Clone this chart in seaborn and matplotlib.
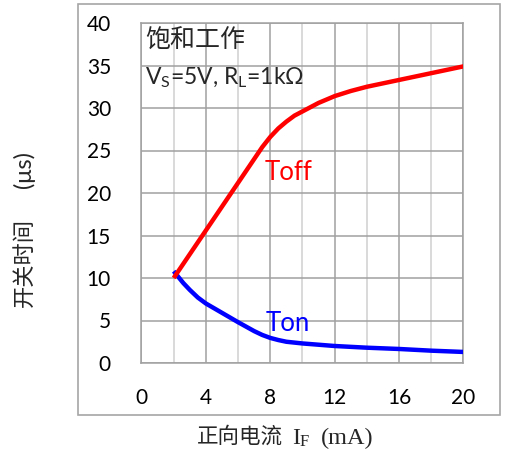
import matplotlib
matplotlib.use("Agg")
import matplotlib.pyplot as plt
import seaborn as sns
import pandas as pd
from matplotlib.patches import Rectangle

# ---- data ----
toff_x = [2, 3, 4, 5, 6, 7, 7.5, 8, 8.5, 9, 9.5, 10, 11, 12, 13, 14, 15, 16, 17, 18, 19, 20]
toff_y = [10.0, 12.8, 15.6, 18.4, 21.2, 24.0, 25.4, 26.6, 27.6, 28.4, 29.1, 29.6, 30.6,
          31.4, 32.0, 32.5, 32.9, 33.3, 33.7, 34.1, 34.5, 34.9]
ton_x = [2, 2.3, 2.6, 3, 3.5, 4, 5, 6, 7, 7.5, 8, 8.5, 9, 9.5, 10, 11, 12, 14, 16, 18, 20]
ton_y = [10.8, 10.1, 9.4, 8.6, 7.7, 7.0, 5.9, 4.8, 3.75, 3.3, 2.95, 2.7, 2.5, 2.4, 2.3,
         2.15, 2.0, 1.8, 1.65, 1.45, 1.3]
x_ticks = [0, 4, 8, 12, 16, 20]
y_ticks = [0, 5, 10, 15, 20, 25, 30, 35, 40]
series_names = ["Toff", "Ton"]

df = pd.concat([
    pd.DataFrame({"IF": toff_x, "t": toff_y, "series": "Toff"}),
    pd.DataFrame({"IF": ton_x, "t": ton_y, "series": "Ton"}),
], ignore_index=True)

sns.set_theme(style="white")
plt.rcParams["font.family"] = ["Lato", "DejaVu Sans"]

W, H = 506, 450
fig = plt.figure(figsize=(W / 100, H / 100), dpi=100)
ax = fig.add_axes([141.5 / W, 1 - 363 / H, 322 / W, 340 / H])

sns.lineplot(data=df, x="IF", y="t", hue="series", hue_order=["Ton", "Toff"],
             palette={"Toff": "#ff0000", "Ton": "#0000ff"}, linewidth=3.2,
             sort=False, estimator=None, legend=False, ax=ax, zorder=3)
for ln in ax.lines:
    ln.set_solid_capstyle("butt")
    ln.set_solid_joinstyle("round")

ax.set_xlim(0, 20)
ax.set_ylim(0, 40)
ax.set_xticks(x_ticks)
ax.set_xticks([2, 6, 10, 14, 18], minor=True)
ax.set_yticks(y_ticks)
ax.set_xticklabels([str(v) for v in x_ticks])
ax.set_yticklabels([str(v) for v in y_ticks])
ax.grid(True, which="major", color="#a0a0a0", linewidth=1.1)
ax.grid(True, which="minor", axis="x", color="#d0d0d0", linewidth=1.1)
ax.set_axisbelow(True)
ax.tick_params(axis="both", which="both", length=0, labelsize=15, colors="#000000")
ax.tick_params(axis="y", pad=22)
ax.tick_params(axis="x", pad=18)
for s in ax.spines.values():
    s.set_color("#a0a0a0")
    s.set_linewidth(1.1)
ax.set_xlabel("")
ax.set_ylabel("")

# annotations
ax.text(7.65, 22.4, "Toff", color="#ff0000", fontsize=18.5, ha="left", va="center")
ax.text(7.7, 4.7, "Ton", color="#0000ff", fontsize=18.5, ha="left", va="center")
ax.text(0.2, 37.9, "饱和工作", fontsize=18, ha="left", va="center",
        family=["Noto Sans CJK SC", "DejaVu Sans"])
ax.text(0.2, 33.6, r"V$_\mathregular{S}$=5V, R$_\mathregular{L}$=1kΩ", fontsize=16.5,
        ha="left", va="center")

# y axis title (two pieces to mimic the wide spacing)
fig.text(24 / W, 1 - 307 / H, "开关时间", rotation=90, ha="center", va="bottom",
         fontsize=16, family=["Noto Sans CJK SC", "DejaVu Sans"])
fig.text(24 / W, 1 - 170 / H, "(μs)", rotation=90, ha="center", va="center",
         fontsize=17, family=["Lato", "DejaVu Sans"])

# x axis title built from pieces (CJK + serif + subscript)
serif_cjk = ["Liberation Serif", "Noto Sans CJK SC"]
fig.text(197 / W, 1 - 437 / H, "正向电流", ha="left", va="center",
         fontsize=15.5, family=["Noto Sans CJK SC", "DejaVu Sans"])
fig.text(292 / W, 1 - 444 / H, "I", ha="left", va="baseline",
         fontsize=17, family=serif_cjk)
fig.text(300 / W, 1 - 445.5 / H, "F", ha="left", va="baseline",
         fontsize=12, family=serif_cjk)
fig.text(321 / W, 1 - 444 / H, "(mA)", ha="left", va="baseline",
         fontsize=17.5, family=serif_cjk)

# outer frame
fig.patches.append(Rectangle((78 / W, 1 - 415 / H), 422 / W, 411 / H,
                             transform=fig.transFigure, fill=False,
                             edgecolor="#a6a6a6", linewidth=1.2))

fig.savefig("out.png", dpi=100)
